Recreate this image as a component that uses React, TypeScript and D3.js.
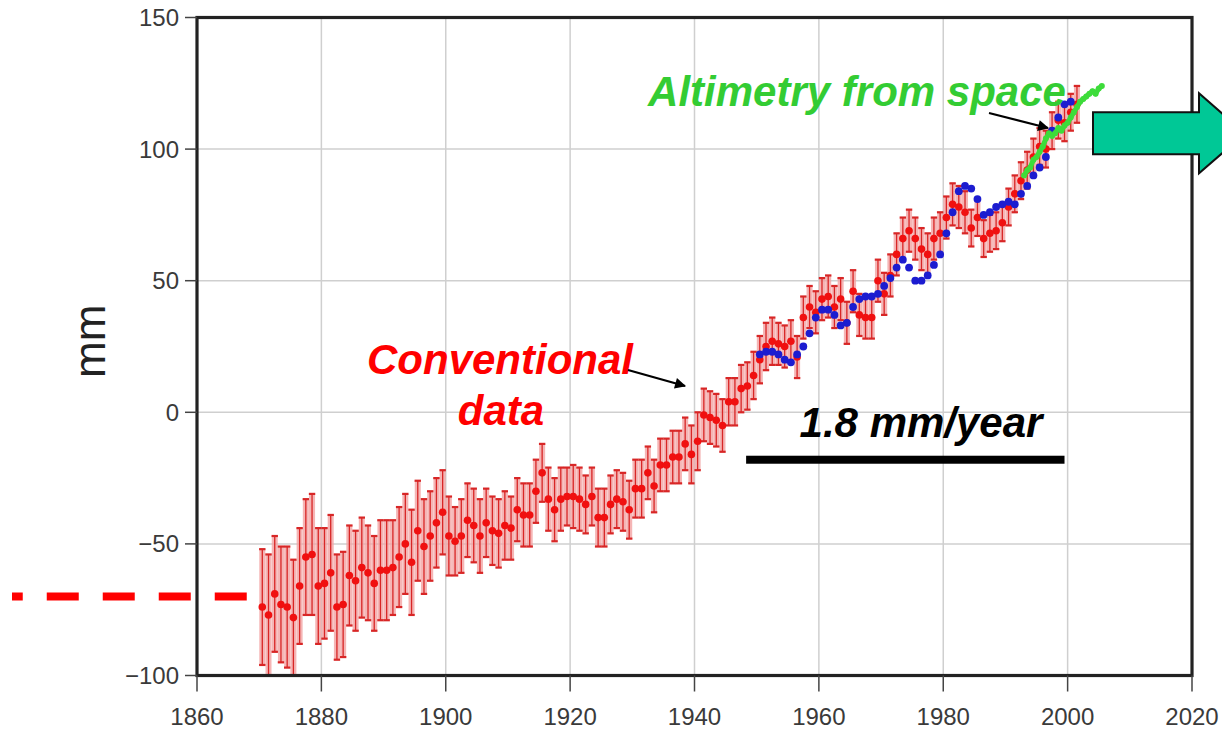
import * as d3 from "d3";

// tide-gauge reconstruction, annual means (mm), one value per year starting 1870
const redStart = 1870;
const redValues = [
  -74, -77, -69, -73, -74, -78, -66, -55, -54, -66,
  -65, -61, -74, -73, -62, -64, -59, -61, -65, -60,
  -60, -59, -55, -50, -57, -45, -51, -47, -42, -38,
  -47, -49, -47, -41, -43, -47, -42, -45, -46, -43,
  -44, -37, -39, -39, -30, -23, -33, -37, -33, -32,
  -32, -33, -35, -32, -40, -40, -35, -33, -34, -37,
  -29, -29, -23, -28, -20, -20, -17, -17, -12, -16,
  -11, -1, -2, -3, -5, 4, 4, 9, 10, 14,
  20, 25, 27, 26, 25, 27, 21, 36, 40, 38,
  43, 44, 40, 43, 34, 46, 37, 36, 36, 50,
  45, 52, 60, 66, 69, 66, 62, 60, 66, 68,
  74, 79, 78, 76, 70, 74, 66, 68, 69, 72,
  78, 83, 88, 92, 97, 101, 100, 107, 111, 110,
  114, 117,
];
const redErrors = [
  22, 23, 22, 22, 23, 22, 22, 22, 23, 22,
  21, 22, 20, 20, 19, 19, 19, 18, 18, 19,
  19, 18, 19, 19, 20, 19, 18, 17, 17, 16,
  15, 13, 14, 14, 14, 14, 13, 13, 13, 13,
  12, 12, 12, 12, 12, 11, 12, 12, 12, 11,
  12, 12, 11, 11, 11, 11, 11, 11, 11, 11,
  11, 11, 10, 10, 10, 10, 10, 10, 10, 11,
  11, 10, 10, 10, 10, 9, 9, 9, 9, 9,
  9, 9, 9, 8, 8, 8, 8, 8, 8, 8,
  8, 8, 8, 8, 8, 8, 8, 8, 8, 8,
  8, 8, 8, 8, 8, 8, 8, 8, 8, 8,
  8, 8, 8, 8, 7, 7, 7, 7, 7, 7,
  7, 7, 7, 7, 7, 7, 7, 7, 7, 7,
  7, 7,
];

// second reconstruction (blue dots), 1950-2000
const blueStart = 1950;
const blueValues = [
  22, 23, 23, 22, 20, 19, 22, 25, 30, 36,
  39, 39, 37, 33, 34, 40, 43, 44, 44, 45,
  48, 51, 55, 58, 55, 50, 50, 52, 56, 60,
  68, 76, 84, 86, 85, 81, 75, 76, 78, 79,
  80, 79, 83, 86, 90, 93, 97, 107, 112, 117,
  118,
];

// satellite altimetry (green)
const greenYears = [
  1993.0, 1993.5, 1994.0, 1994.5, 1995.0, 1995.5, 1996.0, 1996.5, 1997.0,
  1997.5, 1998.0, 1998.5, 1999.0, 1999.5, 2000.0, 2000.5, 2001.0, 2001.5,
  2002.0, 2002.5, 2003.0, 2003.5, 2004.0, 2004.5, 2005.0, 2005.5,
];
const greenValues = [
  90, 92, 93, 96, 97, 99, 101, 104, 106,
  105, 106, 108, 107, 109, 110, 112, 114, 116,
  118, 119, 120, 121, 122, 121, 123, 124,
];

const xTicks = [1860, 1880, 1900, 1920, 1940, 1960, 1980, 2000, 2020];
const yTicks = [-100, -50, 0, 50, 100, 150];

const W = 1222;
const H = 732;
const font = "'Liberation Sans', Arial, Helvetica, sans-serif";

export default function App() {
  const x = d3.scaleLinear().domain([1860, 2020]).range([197, 1192]);
  const y = d3.scaleLinear().domain([-100, 150]).range([675.5, 17.5]);
  const [x0, x1] = x.range();
  const [yb, yt] = y.range();

  const red = redValues.map((v, i) => ({ t: redStart + i + 0.5, v, e: redErrors[i] }));
  const blue = blueValues.map((v, i) => ({ t: blueStart + i + 0.5, v }));
  const green = greenYears.map((t, i) => ({ t, v: greenValues[i] }));

  const greenLine = d3
    .line<{ t: number; v: number }>()
    .x((d) => x(d.t))
    .y((d) => y(d.v));

  const fmt = (v: number) => (v < 0 ? "\u2212" + Math.abs(v) : String(v));

  // block arrow on the right, partly off the page
  const arrowY = y(106);
  const arrowPath = [
    [1093, arrowY - 21],
    [1199, arrowY - 21],
    [1199, arrowY - 40],
    [1245, arrowY],
    [1199, arrowY + 40],
    [1199, arrowY + 21],
    [1093, arrowY + 21],
  ];

  return (
    <svg
      width={W}
      height={H}
      style={{ position: "absolute", left: 0, top: 0, background: "#fff" }}
    >
      <defs>
        <marker id="head" viewBox="0 0 10 10" refX="9" refY="5" markerWidth="6" markerHeight="5" orient="auto">
          <path d="M0,0 L10,5 L0,10 z" fill="#000" />
        </marker>
      </defs>

      {/* grid */}
      <g stroke="#cfcfcf" strokeWidth={1.5}>
        {xTicks.map((t) => (
          <line key={"gx" + t} x1={x(t)} x2={x(t)} y1={yt} y2={yb} />
        ))}
        {yTicks.map((t) => (
          <line key={"gy" + t} x1={x0} x2={x1} y1={y(t)} y2={y(t)} />
        ))}
      </g>

      {/* red dashed reference on the left */}
      <line
        x1={x(1868)}
        x2={12}
        y1={y(-70)}
        y2={y(-70)}
        stroke="#ff0000"
        strokeWidth={8}
        strokeDasharray="32 24"
      />

      {/* red series with error bars */}
      <g>
        {red.map((d) => (
          <rect
            key={"rb" + d.t}
            x={x(d.t) - 3}
            width={6}
            y={y(d.v + d.e)}
            height={y(d.v - d.e) - y(d.v + d.e)}
            fill="#f2a2a2"
            opacity={0.8}
          />
        ))}
        {red.map((d) => (
          <g key={"re" + d.t} stroke="#d82626">
            <line x1={x(d.t)} x2={x(d.t)} y1={y(d.v + d.e)} y2={y(d.v - d.e)} strokeWidth={1.3} />
            <line x1={x(d.t) - 3.2} x2={x(d.t) + 3.2} y1={y(d.v + d.e)} y2={y(d.v + d.e)} strokeWidth={2.2} />
            <line x1={x(d.t) - 3.2} x2={x(d.t) + 3.2} y1={y(d.v - d.e)} y2={y(d.v - d.e)} strokeWidth={2.2} />
          </g>
        ))}
        {red.map((d) => (
          <circle key={"rc" + d.t} cx={x(d.t)} cy={y(d.v)} r={3.8} fill="#f01010" />
        ))}
      </g>

      {/* blue series */}
      <g fill="#1c1cd0">
        {blue.map((d) => (
          <circle key={"b" + d.t} cx={x(d.t)} cy={y(d.v)} r={3.9} />
        ))}
      </g>

      {/* green altimetry */}
      <path d={greenLine(green) || ""} fill="none" stroke="#3ddc3a" strokeWidth={5} strokeLinejoin="round" />
      <g fill="#3ddc3a">
        {green.map((d) => (
          <circle key={"g" + d.t} cx={x(d.t)} cy={y(d.v)} r={3} />
        ))}
      </g>

      {/* frame */}
      <rect
        x={x0}
        y={yt}
        width={x1 - x0}
        height={yb - yt}
        fill="none"
        stroke="#222"
        strokeWidth={3.2}
      />

      {/* axes */}
      <g fontFamily={font} fontSize={24} fill="#3a3a3a">
        {yTicks.map((t) => (
          <g key={"yt" + t}>
            <line x1={x0 - 12} x2={x0} y1={y(t)} y2={y(t)} stroke="#444" strokeWidth={1.5} />
            <text x={x0 - 18} y={y(t)} dy="0.35em" textAnchor="end">
              {fmt(t)}
            </text>
          </g>
        ))}
        {xTicks.map((t) => (
          <g key={"xt" + t}>
            <line x1={x(t)} x2={x(t)} y1={yb} y2={yb + 16} stroke="#444" strokeWidth={1.5} />
            <text x={x(t)} y={725} textAnchor="middle">
              {t}
            </text>
          </g>
        ))}
      </g>
      <text
        transform={`translate(105, ${y(27)}) rotate(-90)`}
        textAnchor="middle"
        fontFamily={font}
        fontSize={44}
        fill="#222"
      >
        mm
      </text>

      {/* annotations */}
      <g fontFamily={font} fontSize={42} fontWeight="bold" fontStyle="italic">
        <text x={857} y={106} textAnchor="middle" fill="#33cc33">
          Altimetry from space
        </text>
        <text x={500} y={374} textAnchor="middle" fill="#ff0000">
          Conventional
        </text>
        <text x={501} y={425} textAnchor="middle" fill="#ff0000">
          data
        </text>
        <text x={921} y={437} textAnchor="middle" fill="#000">
          1.8 mm/year
        </text>
      </g>
      <rect x={x(1948.3)} y={y(-16.5)} width={x(1999.5) - x(1948.3)} height={8} fill="#000" />

      <line x1={628} y1={370} x2={685} y2={386} stroke="#000" strokeWidth={2.2} markerEnd="url(#head)" />
      <line x1={989} y1={113} x2={1048} y2={128} stroke="#000" strokeWidth={2.2} markerEnd="url(#head)" />

      <path
        d={d3.line()(arrowPath as [number, number][]) + "Z"}
        fill="#00c896"
        stroke="#111"
        strokeWidth={2}
      />
    </svg>
  );
}
